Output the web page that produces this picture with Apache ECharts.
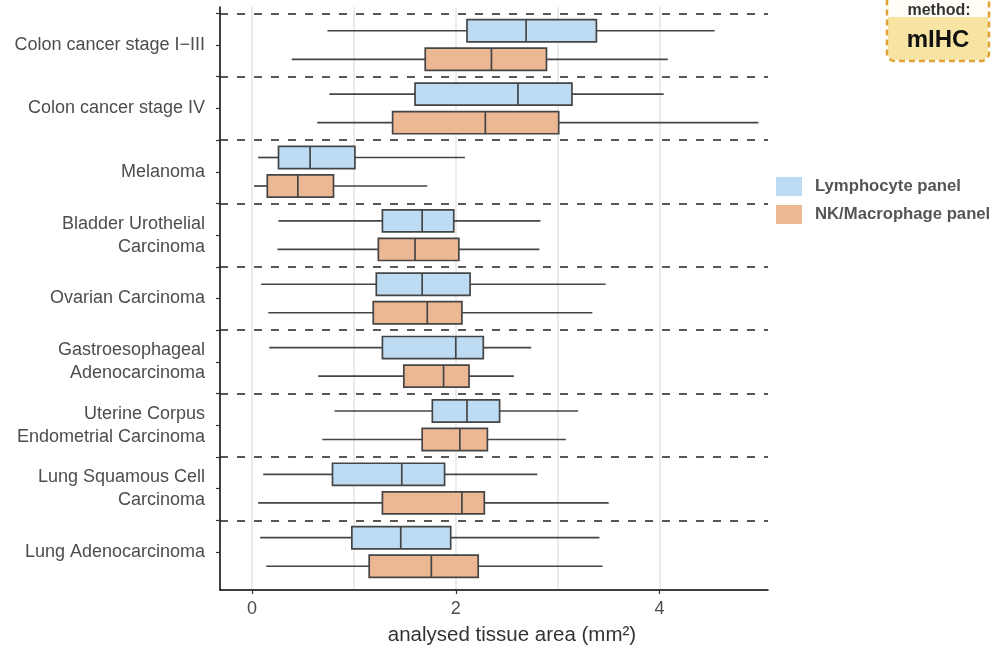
<!DOCTYPE html>
<html>
<head>
<meta charset="utf-8">
<script src="https://cdn.jsdelivr.net/npm/echarts@6/dist/echarts.min.js"></script>
<style>
  html, body { margin: 0; padding: 0; background: #ffffff; }
  #chart { width: 991px; height: 651px; }
</style>
</head>
<body>
<div id="chart"></div>
<script>
// ---- data ----
const categories = [
  'Colon cancer stage I\u2212III',
  'Colon cancer stage IV',
  'Melanoma',
  'Bladder Urothelial\nCarcinoma',
  'Ovarian Carcinoma',
  'Gastroesophageal\nAdenocarcinoma',
  'Uterine Corpus\nEndometrial Carcinoma',
  'Lung Squamous Cell\nCarcinoma',
  'Lung Adenocarcinoma'
];
const seriesNames = ['Lymphocyte panel', 'NK/Macrophage panel'];
// [whisker low, Q1, median, Q3, whisker high] per category
const lymphocyteStats = [
  [0.74, 2.11, 2.69, 3.38, 4.54],
  [0.76, 1.60, 2.61, 3.14, 4.04],
  [0.06, 0.26, 0.57, 1.01, 2.09],
  [0.26, 1.28, 1.67, 1.98, 2.83],
  [0.09, 1.22, 1.67, 2.14, 3.47],
  [0.17, 1.28, 2.00, 2.27, 2.74],
  [0.81, 1.77, 2.11, 2.43, 3.20],
  [0.11, 0.79, 1.47, 1.89, 2.80],
  [0.08, 0.98, 1.46, 1.95, 3.41]
];
const nkStats = [
  [0.39, 1.70, 2.35, 2.89, 4.08],
  [0.64, 1.38, 2.29, 3.01, 4.97],
  [0.02, 0.15, 0.45, 0.80, 1.72],
  [0.25, 1.24, 1.60, 2.03, 2.82],
  [0.16, 1.19, 1.72, 2.06, 3.34],
  [0.65, 1.49, 1.88, 2.13, 2.57],
  [0.69, 1.67, 2.04, 2.31, 3.08],
  [0.06, 1.28, 2.06, 2.28, 3.50],
  [0.14, 1.15, 1.76, 2.22, 3.44]
];
const xTickLabels = [0, 2, 4];
const xGridValues = [0, 1, 2, 3, 4];

// ---- derived ----
const catPositions = categories.map((c, i) => i + 1);
const dividerPositions = categories.map((c, i) => i + 0.5);
const yTickValues = [];
categories.forEach((c, i) => { yTickValues.push(i + 0.5, i + 1); });

const colors = ['#bddcf3', '#ecb793'];
const BOX_H = 0.35;
const OFFSET = 0.225;

function buildData(stats) {
  return stats.map((s, i) => [catPositions[i]].concat(s));
}

function makeRender(offset, color) {
  return function (params, api) {
    const y = api.value(0) + offset;
    const lo = api.coord([api.value(1), y]);
    const q1 = api.coord([api.value(2), y]);
    const md = api.coord([api.value(3), y]);
    const q3 = api.coord([api.value(4), y]);
    const hi = api.coord([api.value(5), y]);
    const h = Math.abs(api.size([0, BOX_H])[1]);
    const lineStyle = { stroke: '#454545', lineWidth: 1.7 };
    return {
      type: 'group',
      children: [
        { type: 'line', shape: { x1: lo[0], y1: lo[1], x2: q1[0], y2: q1[1] }, style: lineStyle },
        { type: 'line', shape: { x1: q3[0], y1: q3[1], x2: hi[0], y2: hi[1] }, style: lineStyle },
        { type: 'rect', shape: { x: q1[0], y: q1[1] - h / 2, width: q3[0] - q1[0], height: h },
          style: { fill: color, stroke: '#454545', lineWidth: 1.7 } },
        { type: 'line', shape: { x1: md[0], y1: md[1] - h / 2, x2: md[0], y2: md[1] + h / 2 }, style: lineStyle }
      ]
    };
  };
}

const XMIN = -0.314, XMAX = 5.064;

const chart = echarts.init(document.getElementById('chart'), null, { renderer: 'canvas' });
chart.setOption({
  animation: false,
  backgroundColor: '#ffffff',
  grid: { left: 220, right: 223, top: 7, bottom: 61, containLabel: false, outerBoundsMode: 'none' },
  xAxis: [
    {
      type: 'value', min: XMIN, max: XMAX,
      name: 'analysed tissue area (mm\u00b2)',
      nameLocation: 'middle', nameGap: 35,
      nameTextStyle: { fontFamily: 'Liberation Sans', fontSize: 20.5, color: '#333333', padding: [0, 0, 0, 36] },
      axisLine: { show: true, onZero: false, lineStyle: { color: '#000000', width: 1.5 } },
      axisTick: { show: true, length: 4, customValues: xTickLabels, lineStyle: { color: '#333333', width: 1.2 } },
      axisLabel: { show: true, customValues: xTickLabels, margin: 10, fontFamily: 'Liberation Sans', fontSize: 18, color: '#4d4d4d' },
      splitLine: { show: false }
    },
    {
      type: 'value', min: XMIN, max: XMAX, position: 'bottom',
      axisLine: { show: false }, axisLabel: { show: false },
      axisTick: { show: false, customValues: xGridValues },
      splitLine: { show: true, lineStyle: { color: '#e4e4e4', width: 1.5 } }
    }
  ],
  yAxis: {
    type: 'value', inverse: true, min: 0.4, max: 9.6,
    axisLine: { show: true, onZero: false, lineStyle: { color: '#000000', width: 1.5 } },
    axisTick: { show: true, length: 4, customValues: yTickValues, lineStyle: { color: '#333333', width: 1.2 } },
    axisLabel: {
      show: true, customValues: catPositions, margin: 15,
      formatter: v => categories[Math.round(v) - 1] || '',
      fontFamily: 'Liberation Sans', fontSize: 18, lineHeight: 23, color: '#4d4d4d', align: 'right'
    },
    splitLine: { show: false }
  },
  legend: {
    orient: 'vertical', left: 771, top: 172,
    itemWidth: 26, itemHeight: 19, itemGap: 9, icon: 'rect',
    itemStyle: { borderWidth: 0 },
    textStyle: { fontFamily: 'Liberation Sans', fontSize: 16.7, fontWeight: 'bold', color: '#555555', padding: [0, 0, 0, 8] },
    data: seriesNames
  },
  series: [
    {
      name: seriesNames[0], type: 'custom', xAxisIndex: 0, yAxisIndex: 0,
      renderItem: makeRender(-OFFSET, colors[0]),
      itemStyle: { color: colors[0] },
      encode: { x: [1, 2, 3, 4, 5], y: 0 },
      data: buildData(lymphocyteStats),
      z: 3,
      markLine: {
        silent: true, symbol: ['none', 'none'], label: { show: false },
        lineStyle: { color: '#222222', type: [8, 9], width: 1.7 },
        data: dividerPositions.map(v => ({ yAxis: v }))
      }
    },
    {
      name: seriesNames[1], type: 'custom', xAxisIndex: 0, yAxisIndex: 0,
      renderItem: makeRender(OFFSET, colors[1]),
      itemStyle: { color: colors[1] },
      encode: { x: [1, 2, 3, 4, 5], y: 0 },
      data: buildData(nkStats),
      z: 3
    }
  ],
  graphic: [
    { type: 'rect', shape: { x: 887, y: -8, width: 102, height: 69, r: 8 }, style: { fill: '#fffdf6' }, z: 10 },
    { type: 'rect', shape: { x: 888, y: 17, width: 100, height: 43, r: [0, 0, 7, 7] }, style: { fill: '#f8e4a2' }, z: 11 },
    { type: 'rect', shape: { x: 887, y: -8, width: 102, height: 69, r: 8 }, style: { fill: 'none', stroke: '#e0a236', lineWidth: 2.5, lineDash: [6, 4] }, z: 12 },
    { type: 'text', x: 939, y: 11, style: { text: 'method:', fontFamily: 'Liberation Sans', fontSize: 16, fontWeight: 'bold', fill: '#333333', align: 'center', verticalAlign: 'middle' }, z: 13 },
    { type: 'text', x: 938, y: 40, style: { text: 'mIHC', fontFamily: 'Liberation Sans', fontSize: 24, fontWeight: 'bold', fill: '#111111', align: 'center', verticalAlign: 'middle' }, z: 13 }
  ]
});
</script>
</body>
</html>
